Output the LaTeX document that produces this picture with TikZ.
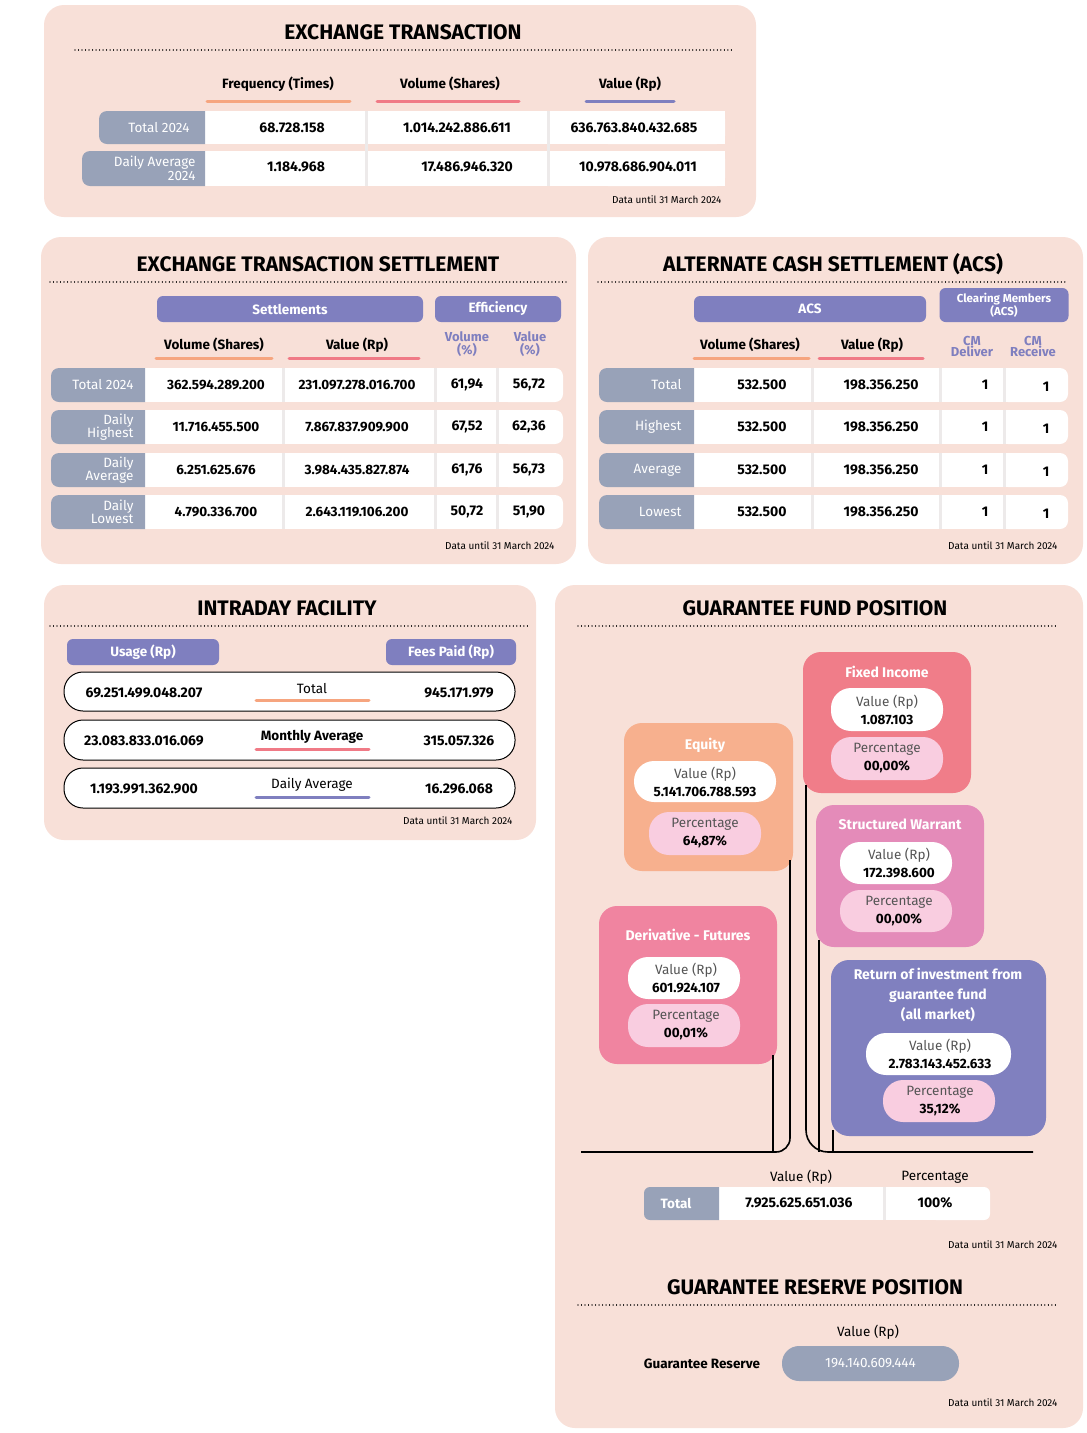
\documentclass[tikz,border=0pt]{standalone}
\usepackage{fontspec}
\setmainfont{Fira Sans}
\definecolor{panelbg}{HTML}{F8E0D8}
\definecolor{lg}{HTML}{98A2B8}
\definecolor{orn}{HTML}{F6A57F}
\definecolor{red1}{HTML}{F07A86}
\definecolor{pur}{HTML}{7F7FBF}
\definecolor{eqc}{HTML}{F7B08E}
\definecolor{fic}{HTML}{F07D89}
\definecolor{swc}{HTML}{E48BB9}
\definecolor{dfc}{HTML}{F084A0}
\definecolor{roc}{HTML}{8080BF}
\definecolor{lpk}{HTML}{F9CDE0}
\definecolor{sep}{HTML}{EDEAEA}
\definecolor{txg}{HTML}{555555}
\tikzset{
 panel/.style={fill=panelbg, rounded corners=20pt},
 ttl/.style={font=\fontsize{21}{23}\selectfont\bfseries},
 dots/.style={line width=1.2pt, dash pattern=on 0.01pt off 3.5pt, line cap=round},
 hdr/.style={font=\fontsize{13.5}{14}\selectfont\bfseries},
 num/.style={font=\fontsize{14}{15}\selectfont\bfseries},
 lbl/.style={font=\fontsize{13.5}{13.5}\selectfont, text=white, align=right, anchor=east},
 note/.style={font=\fontsize{10}{10}\selectfont, anchor=east},
 uline/.style={line width=3pt, line cap=round},
 phdr/.style={fill=pur, rounded corners=6pt, text=white, font=\fontsize{13.5}{14}\selectfont\bfseries},
 phdr2/.style={text=pur, font=\fontsize{13}{11}\selectfont\bfseries, align=center},
 fbox/.style={rounded corners=18pt, inner sep=0pt},
 ftitle/.style={text=white, font=\fontsize{14}{15}\selectfont\bfseries, align=center},
 pv/.style={font=\fontsize{13.5}{18}\selectfont, align=center},
 outl/.style={draw=black, line width=1pt, rounded corners=19pt, fill=white},
 conn/.style={line width=1.6pt},
}
\newcommand{\lab}[6]{% x1 y1 x2 y2 labelxend text
 \fill[lg] (#3,#2) [rounded corners=8pt] -- (#1,#2) -- (#1,#4) [sharp corners] -- (#3,#4) -- cycle;
 \node[lbl] at (#5,{(#2+#4)/2}) {#6};}
\begin{document}
\begin{tikzpicture}[x=1pt,y=-1pt]
\useasboundingbox (0,0) rectangle (1087,1433);
\fill[white] (0,0) rectangle (1087,1433);
% ===== Panel 1
\fill[panel] (44,5) rectangle (756,217);
\node[ttl] (t1) at (403,32) {EXCHANGE TRANSACTION};
\draw[dots] (75,50) -- (732,50);
\node[hdr] (h11) at (278,84) {Frequency (Times)};
\node[hdr] (h12) at (450,84) {Volume (Shares)};
\node[hdr] (h13) at (630,84) {Value (Rp)};
\draw[uline, orn] (207,101) -- (350,101);
\draw[uline, red1] (377,101) -- (519,101);
\draw[uline, pur] (586,101) -- (674,101);
\fill[white] (195,111) rectangle (725,144);
\fill[white] (195,151) rectangle (725,186);
\fill[white, rounded corners=8pt] (600,111) rectangle (725,144);
\fill[white, rounded corners=8pt] (600,151) rectangle (725,186);
\foreach \x in {366,548} \draw[sep, line width=3pt] (\x,111) -- (\x,186);
\lab{99}{111}{205}{144}{193}{Total 2024}
\lab{82}{151}{205}{186}{199}{Daily Average\\2024}
\node[num] (v11) at (292,128) {68.728.158};
\node[num] (v12) at (457,128) {1.014.242.886.611};
\node[num] (v13) at (634,128) {636.763.840.432.685};
\node[num] (v21) at (296,167) {1.184.968};
\node[num] (v22) at (467,167) {17.486.946.320};
\node[num] (v23) at (638,167) {10.978.686.904.011};
\node[note] (n1) at (725,200) {Data until 31 March 2024};
% ===== Panel 2
\fill[panel] (41,237) rectangle (576,564);
\node[ttl] (t2) at (318,264) {EXCHANGE TRANSACTION SETTLEMENT};
\draw[dots] (50,282) -- (566,282);
\node[phdr, minimum width=266pt, minimum height=26pt] (s1) at (290,309) {Settlements};
\node[phdr, minimum width=126pt, minimum height=26pt] (s2) at (498,309) {Efficiency};
\node[hdr] (s3) at (214,345) {Volume (Shares)};
\node[hdr] (s4) at (357,345) {Value (Rp)};
\draw[uline, orn] (156,358) -- (272,358);
\draw[uline, red1] (289,358) -- (419,358);
\node[phdr2] (s5) at (467,344) {Volume\\(\%)};
\node[phdr2] (s6) at (530,344) {Value\\(\%)};
\foreach \a/\b/\l/\p/\q/\r/\s in {
 368/402/{Total 2024}/{362.594.289.200}/{231.097.278.016.700}/{61,94}/{56,72},
 410/444/{Daily\\Highest}/{11.716.455.500}/{7.867.837.909.900}/{67,52}/{62,36},
 453/487/{Daily\\Average}/{6.251.625.676}/{3.984.435.827.874}/{61,76}/{56,73},
 495/529/{Daily\\Lowest}/{4.790.336.700}/{2.643.119.106.200}/{50,72}/{51,90}}{
 \fill[white] (140,\a) rectangle (540,\b);
 \fill[white, rounded corners=8pt] (500,\a) rectangle (563,\b);
 \foreach \x in {283,435,497} \draw[sep, line width=3pt] (\x,\a) -- (\x,\b);
 \lab{51}{\a}{145}{\b}{137}{\l}
 \node[num, font=\fontsize{13.5}{14}\selectfont\bfseries] at (216,{(\a+\b)/2}) {\p};
 \node[num, font=\fontsize{13.5}{14}\selectfont\bfseries] at (357,{(\a+\b)/2}) {\q};
 \node[num] at (467,{(\a+\b)/2}) {\r};
 \node[num] at (529,{(\a+\b)/2}) {\s};
}
\node[note] (n2) at (558,546) {Data until 31 March 2024};
% ===== Panel 3
\fill[panel] (588,237) rectangle (1083,564);
\node[ttl] (t3) at (833,264) {ALTERNATE CASH SETTLEMENT (ACS)};
\draw[dots] (598,282) -- (1068,282);
\node[phdr, minimum width=232pt, minimum height=26pt] (a1) at (810,309) {ACS};
\node[phdr, minimum width=129pt, minimum height=34pt, align=center, font=\fontsize{11.5}{12}\selectfont\bfseries] (a2) at (1004,305) {Clearing Members\\(ACS)};
\node[hdr] (a3) at (750,345) {Volume (Shares)};
\node[hdr] (a4) at (872,345) {Value (Rp)};
\draw[uline, orn] (694,358) -- (809,358);
\draw[uline, red1] (819,358) -- (923,358);
\node[phdr2] (a5) at (972,346) {CM\\Deliver};
\node[phdr2] (a6) at (1033,346) {CM\\Receive};
\foreach \a/\b/\l in {368/402/Total,410/444/Highest,453/487/Average,495/529/Lowest}{
 \fill[white] (690,\a) rectangle (1040,\b);
 \fill[white, rounded corners=8pt] (1000,\a) rectangle (1068,\b);
 \foreach \x in {812,940,1004} \draw[sep, line width=3pt] (\x,\a) -- (\x,\b);
 \lab{599}{\a}{694}{\b}{685}{\l}
 \node[num] at (762,{(\a+\b)/2}) {532.500};
 \node[num] at (881,{(\a+\b)/2}) {198.356.250};
 \node[num] at (985,{(\a+\b)/2}) {1};
 \node[num] at (1046,{(\a+\b)/2+2}) {1};
}
\node[note] (n3) at (1061,546) {Data until 31 March 2024};
% ===== Panel 4
\fill[panel] (44,585) rectangle (536,840);
\node[ttl] (t4) at (287,608) {INTRADAY FACILITY};
\draw[dots] (50,626) -- (530,626);
\node[phdr, minimum width=152pt, minimum height=26pt] (i1) at (143,652) {Usage (Rp)};
\node[phdr, minimum width=130pt, minimum height=26pt] (i2) at (451,652) {Fees Paid (Rp)};
\foreach \a/\b/\u/\m/\f/\c in {672/711/{69.251.499.048.207}/{Total}/{945.171.979}/orn,
 720/760/{23.083.833.016.069}/{\phantom{Monthly Average}}/{315.057.326}/red1,
 768/808/{1.193.991.362.900}/{Daily Average}/{16.296.068}/pur}{
 \draw[outl] (64,\a) rectangle (515,\b);
 \node[num] at (144,{(\a+\b)/2+1}) {\u};
 \node[font=\fontsize{13.5}{14}\selectfont] at (312,{(\a+\b)/2-3}) {\m};
 \draw[uline, \c] (256,{\b-11}) -- (369,{\b-11});
 \node[num] at (459,{(\a+\b)/2+1}) {\f};
}
\node[font=\fontsize{13.5}{14}\selectfont\bfseries] (ma) at (312,737) {Monthly Average};
\node[note] (n4) at (516,821) {Data until 31 March 2024};
% ===== Panel 5
\fill[panel] (555,585) rectangle (1083,1428);
\node[ttl] (t5) at (815,608) {GUARANTEE FUND POSITION};
\draw[dots] (578,626) -- (1058,626);
\coordinate (hl) at (581,1152);
\coordinate (hr) at (1033,1152);
\node[fbox, fill=eqc, minimum width=169pt, minimum height=148pt] (eq) at (708.5,797) {};
\node[fbox, fill=fic, minimum width=168pt, minimum height=141pt] (fi) at (887,722.5) {};
\node[fbox, fill=swc, minimum width=168pt, minimum height=142pt] (sw) at (900,876) {};
\node[fbox, fill=dfc, minimum width=178pt, minimum height=158pt] (df) at (688,985) {};
\node[fbox, fill=roc, minimum width=215pt, minimum height=176pt] (ro) at (938.5,1048) {};
\draw[conn, rounded corners=14pt] (hl) -- (790,1152) -- (790,860);
\draw[conn] (773,1055) -- (773,1152);
\draw[conn, rounded corners=22pt] (hr) -- (806,1152) -- (806,785);
\draw[conn] (819,940) -- (819,1152);
\draw[conn] (833,1130) -- (833,1152);
% Fixed Income
\node[ftitle] at (887,672) {Fixed Income};
\fill[white, rounded corners=20pt] (831,688) rectangle (943,731);
\node[pv] at (887,709.5) {\textcolor{txg}{Value (Rp)}\\\textbf{1.087.103}};
\fill[lpk, rounded corners=20pt] (831,737) rectangle (943,780);
\node[pv] at (887,758.5) {\textcolor{txg}{Percentage}\\\textbf{00,00\%}};
% Equity
\node[ftitle] at (705,745) {Equity};
\fill[white, rounded corners=20pt] (634,761) rectangle (776,802);
\node[pv] at (705,781.5) {\textcolor{txg}{Value (Rp)}\\\textbf{5.141.706.788.593}};
\fill[lpk, rounded corners=20pt] (649,812) rectangle (761,855);
\node[pv] at (705,833.5) {\textcolor{txg}{Percentage}\\\textbf{64,87\%}};
% Structured Warrant
\node[ftitle] at (900,824) {Structured Warrant};
\fill[white, rounded corners=20pt] (840,842) rectangle (952,884);
\node[pv] at (899,863) {\textcolor{txg}{Value (Rp)}\\\textbf{172.398.600}};
\fill[lpk, rounded corners=20pt] (840,890) rectangle (952,932);
\node[pv] at (899,911) {\textcolor{txg}{Percentage}\\\textbf{00,00\%}};
% Derivative
\node[ftitle] at (688,935) {Derivative - Futures};
\fill[white, rounded corners=20pt] (628,957) rectangle (740,999);
\node[pv] at (686,978) {\textcolor{txg}{Value (Rp)}\\\textbf{601.924.107}};
\fill[lpk, rounded corners=20pt] (628,1004) rectangle (740,1047);
\node[pv] at (686,1025.5) {\textcolor{txg}{Percentage}\\\textbf{00,01\%}};
% Return
\node[ftitle, font=\fontsize{14}{20}\selectfont\bfseries] at (938,995) {Return of investment from\\guarantee fund\\(all market)};
\fill[white, rounded corners=20pt] (866,1033) rectangle (1011,1075);
\node[pv] at (940,1054) {\textcolor{txg}{Value (Rp)}\\\textbf{2.783.143.452.633}};
\fill[lpk, rounded corners=20pt] (883,1080) rectangle (995,1122);
\node[pv] at (940,1101) {\textcolor{txg}{Percentage}\\\textbf{35,12\%}};
% Total
\node[font=\fontsize{13.5}{14}\selectfont] (g1) at (801,1177) {Value (Rp)};
\node[font=\fontsize{13.5}{14}\selectfont] (g2) at (935,1177) {Percentage};
\fill[white] (710,1187) rectangle (950,1220);
\fill[white, rounded corners=6pt] (930,1187) rectangle (990,1220);
\draw[sep, line width=3pt] (884,1187) -- (884,1220);
\fill[lg] (719,1187) [rounded corners=6pt] -- (644,1187) -- (644,1220) [sharp corners] -- (719,1220) -- cycle;
\node[text=white, font=\fontsize{13.5}{14}\selectfont\bfseries] (g3) at (676,1203) {Total};
\node[num] (g4) at (799,1203) {7.925.625.651.036};
\node[num] (g5) at (935,1203) {100\%};
\node[note] (n5) at (1061,1245) {Data until 31 March 2024};
\node[ttl] (t6) at (815,1287) {GUARANTEE RESERVE POSITION};
\draw[dots] (578,1305) -- (1058,1305);
\node[font=\fontsize{13.5}{14}\selectfont] (r1) at (868,1332) {Value (Rp)};
\node[font=\fontsize{13.5}{14}\selectfont\bfseries] (r2) at (702,1364) {Guarantee Reserve};
\node[fill=lg, rounded corners=17pt, minimum width=177pt, minimum height=35pt, text=white, font=\fontsize{13.5}{14}\selectfont] (r3) at (870.5,1363.5) {194.140.609.444};
\node[note] (n6) at (1061,1403) {Data until 31 March 2024};
\end{tikzpicture}
\end{document}
